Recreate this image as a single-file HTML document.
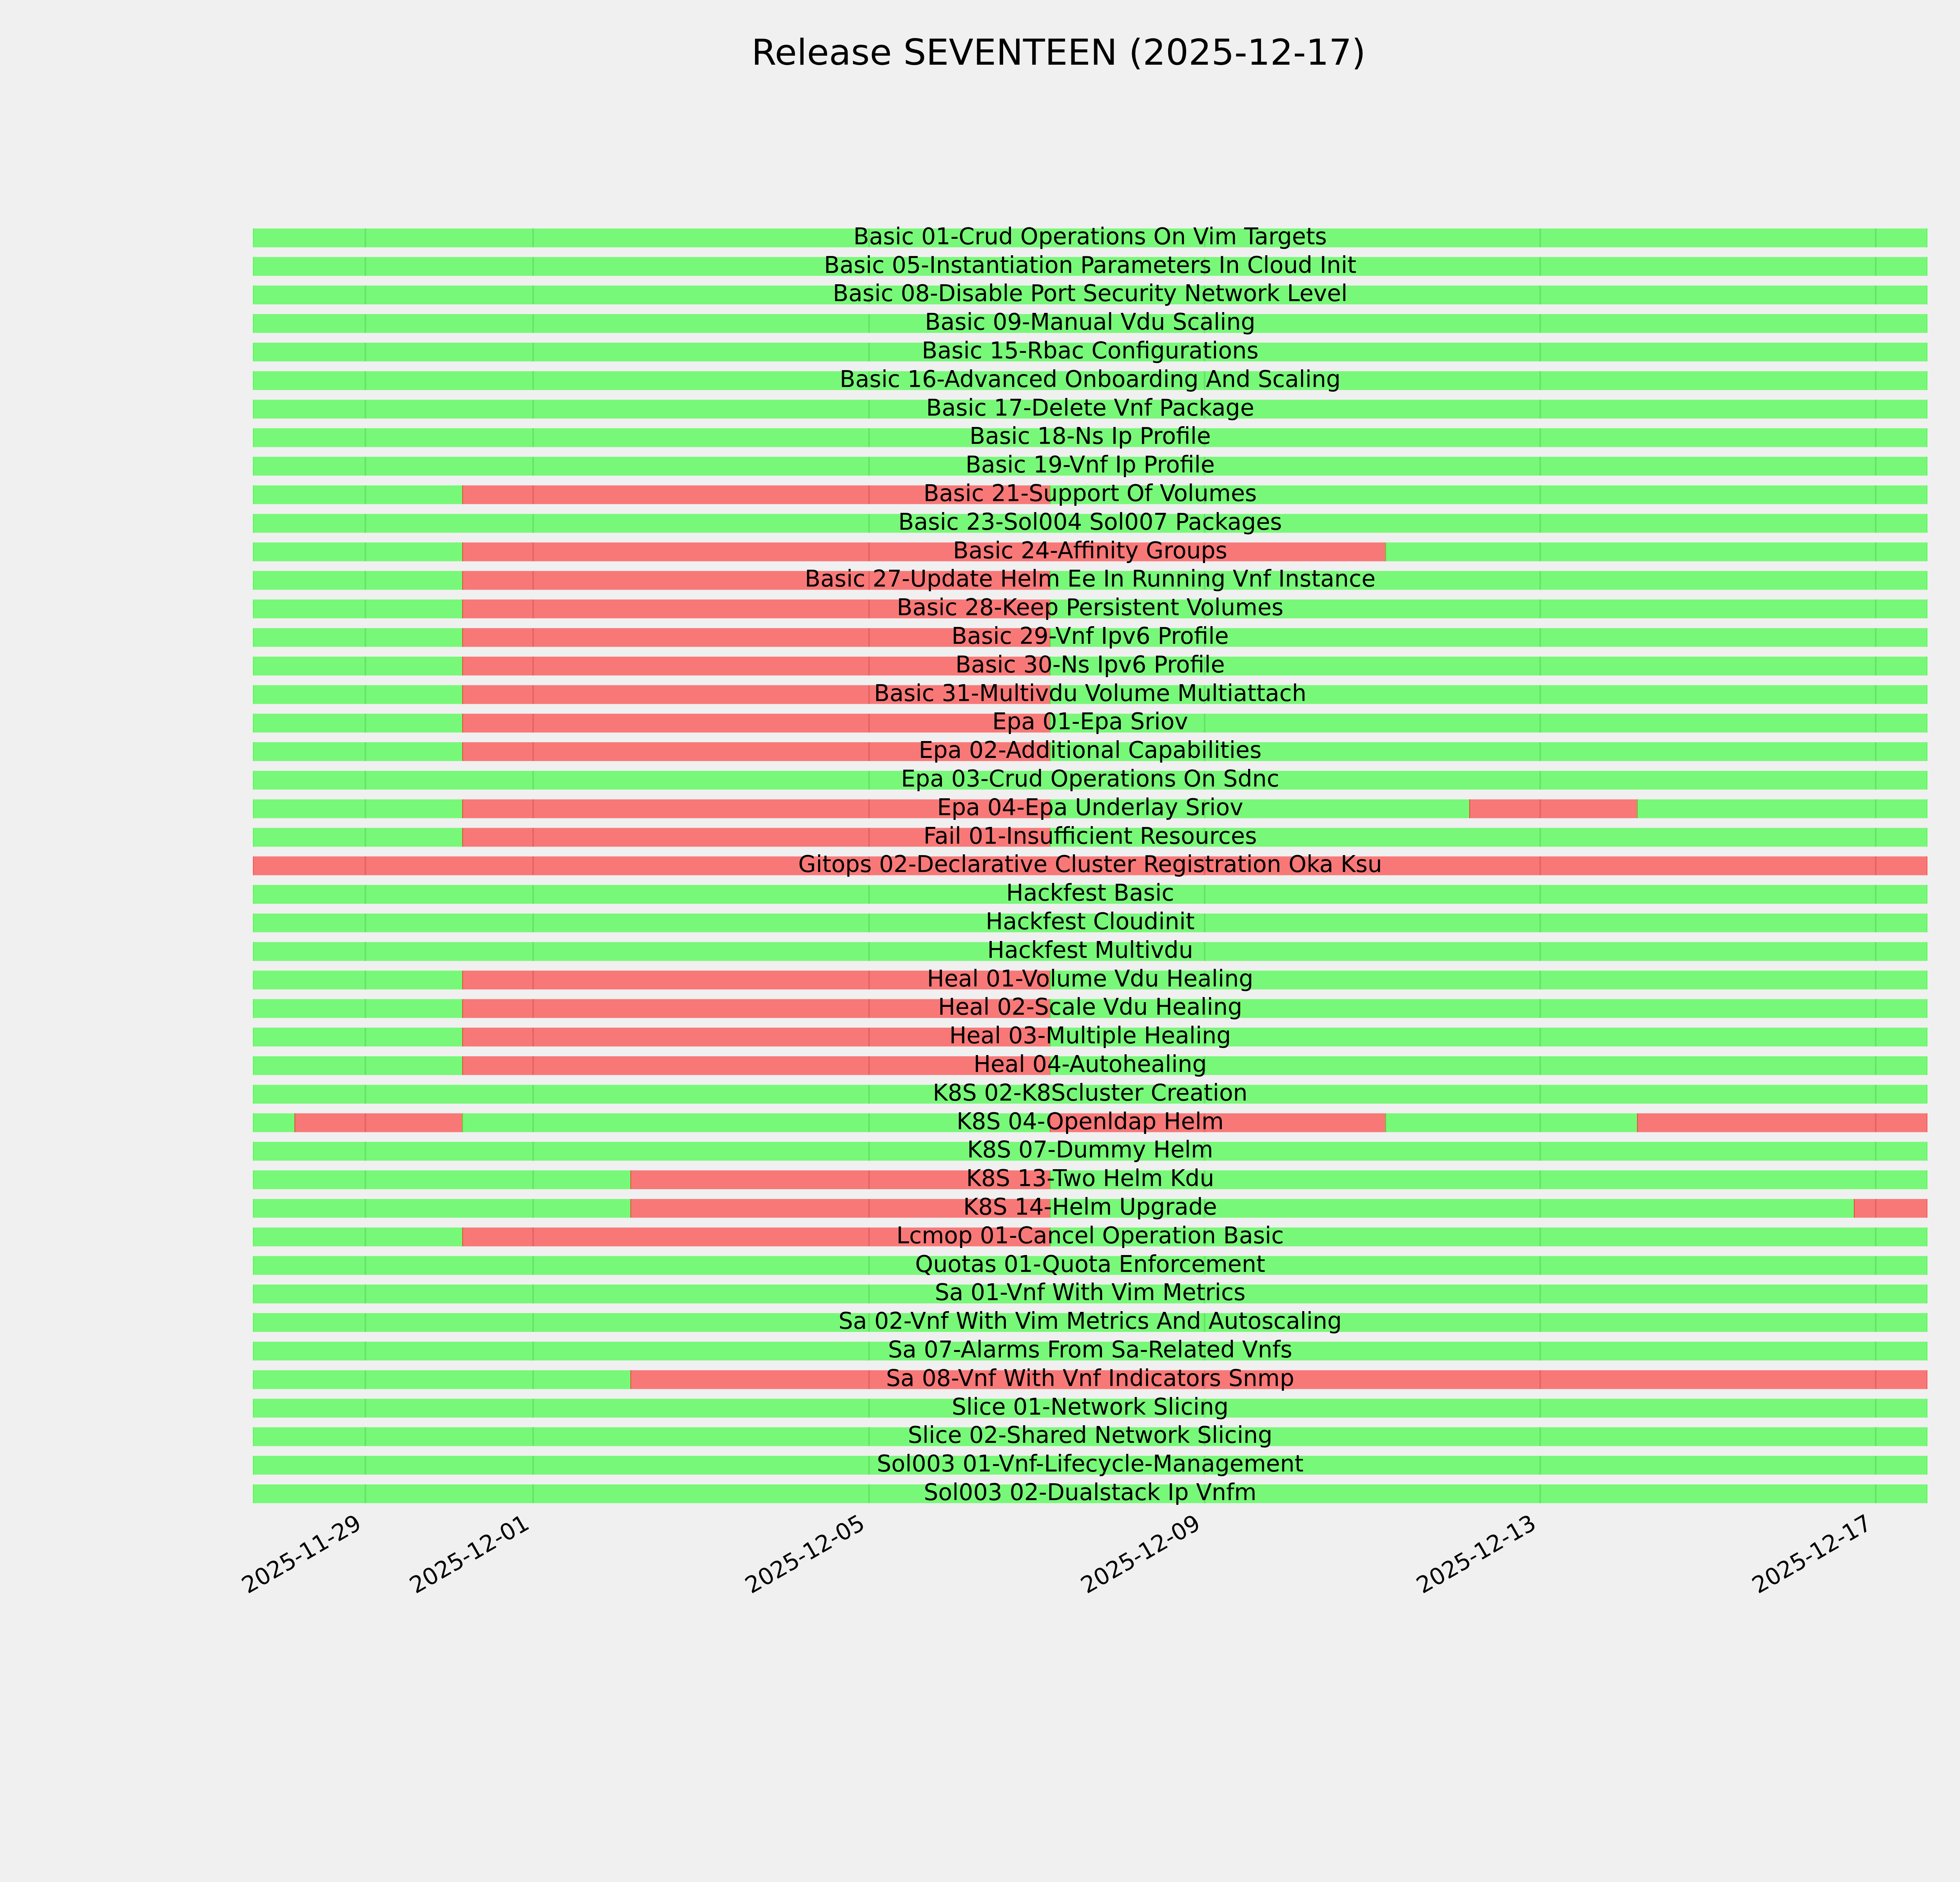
<!DOCTYPE html>
<html><head><meta charset="utf-8"><title>Release SEVENTEEN (2025-12-17)</title>
<style>html,body{margin:0;padding:0;background:#f0f0f0;}body{width:5400px;height:4800px;overflow:hidden;}svg{display:block;}</style>
</head><body>
<svg width="5400" height="4800" viewBox="0 0 5400 4800">
<rect x="0" y="0" width="5400" height="4800" fill="#f0f0f0"/>
<path fill="#cbcbcb" d="M930.00 582.70h4v47.95h-4zM1358.00 582.70h4v47.95h-4zM2215.00 582.70h4v47.95h-4zM3071.00 582.70h4v47.95h-4zM3927.00 582.70h4v47.95h-4zM4783.00 582.70h4v47.95h-4zM930.00 655.50h4v47.95h-4zM1358.00 655.50h4v47.95h-4zM2215.00 655.50h4v47.95h-4zM3071.00 655.50h4v47.95h-4zM3927.00 655.50h4v47.95h-4zM4783.00 655.50h4v47.95h-4zM930.00 728.30h4v47.95h-4zM1358.00 728.30h4v47.95h-4zM2215.00 728.30h4v47.95h-4zM3071.00 728.30h4v47.95h-4zM3927.00 728.30h4v47.95h-4zM4783.00 728.30h4v47.95h-4zM930.00 801.10h4v47.95h-4zM1358.00 801.10h4v47.95h-4zM2215.00 801.10h4v47.95h-4zM3071.00 801.10h4v47.95h-4zM3927.00 801.10h4v47.95h-4zM4783.00 801.10h4v47.95h-4zM930.00 873.90h4v47.95h-4zM1358.00 873.90h4v47.95h-4zM2215.00 873.90h4v47.95h-4zM3071.00 873.90h4v47.95h-4zM3927.00 873.90h4v47.95h-4zM4783.00 873.90h4v47.95h-4zM930.00 946.70h4v47.95h-4zM1358.00 946.70h4v47.95h-4zM2215.00 946.70h4v47.95h-4zM3071.00 946.70h4v47.95h-4zM3927.00 946.70h4v47.95h-4zM4783.00 946.70h4v47.95h-4zM930.00 1019.50h4v47.95h-4zM1358.00 1019.50h4v47.95h-4zM2215.00 1019.50h4v47.95h-4zM3071.00 1019.50h4v47.95h-4zM3927.00 1019.50h4v47.95h-4zM4783.00 1019.50h4v47.95h-4zM930.00 1092.30h4v47.95h-4zM1358.00 1092.30h4v47.95h-4zM2215.00 1092.30h4v47.95h-4zM3071.00 1092.30h4v47.95h-4zM3927.00 1092.30h4v47.95h-4zM4783.00 1092.30h4v47.95h-4zM930.00 1165.10h4v47.95h-4zM1358.00 1165.10h4v47.95h-4zM2215.00 1165.10h4v47.95h-4zM3071.00 1165.10h4v47.95h-4zM3927.00 1165.10h4v47.95h-4zM4783.00 1165.10h4v47.95h-4zM930.00 1237.90h4v47.95h-4zM1358.00 1237.90h4v47.95h-4zM2215.00 1237.90h4v47.95h-4zM3071.00 1237.90h4v47.95h-4zM3927.00 1237.90h4v47.95h-4zM4783.00 1237.90h4v47.95h-4zM930.00 1310.70h4v47.95h-4zM1358.00 1310.70h4v47.95h-4zM2215.00 1310.70h4v47.95h-4zM3071.00 1310.70h4v47.95h-4zM3927.00 1310.70h4v47.95h-4zM4783.00 1310.70h4v47.95h-4zM930.00 1383.50h4v47.95h-4zM1358.00 1383.50h4v47.95h-4zM2215.00 1383.50h4v47.95h-4zM3071.00 1383.50h4v47.95h-4zM3927.00 1383.50h4v47.95h-4zM4783.00 1383.50h4v47.95h-4zM930.00 1456.30h4v47.95h-4zM1358.00 1456.30h4v47.95h-4zM2215.00 1456.30h4v47.95h-4zM3071.00 1456.30h4v47.95h-4zM3927.00 1456.30h4v47.95h-4zM4783.00 1456.30h4v47.95h-4zM930.00 1529.10h4v47.95h-4zM1358.00 1529.10h4v47.95h-4zM2215.00 1529.10h4v47.95h-4zM3071.00 1529.10h4v47.95h-4zM3927.00 1529.10h4v47.95h-4zM4783.00 1529.10h4v47.95h-4zM930.00 1601.90h4v47.95h-4zM1358.00 1601.90h4v47.95h-4zM2215.00 1601.90h4v47.95h-4zM3071.00 1601.90h4v47.95h-4zM3927.00 1601.90h4v47.95h-4zM4783.00 1601.90h4v47.95h-4zM930.00 1674.70h4v47.95h-4zM1358.00 1674.70h4v47.95h-4zM2215.00 1674.70h4v47.95h-4zM3071.00 1674.70h4v47.95h-4zM3927.00 1674.70h4v47.95h-4zM4783.00 1674.70h4v47.95h-4zM930.00 1747.50h4v47.95h-4zM1358.00 1747.50h4v47.95h-4zM2215.00 1747.50h4v47.95h-4zM3071.00 1747.50h4v47.95h-4zM3927.00 1747.50h4v47.95h-4zM4783.00 1747.50h4v47.95h-4zM930.00 1820.30h4v47.95h-4zM1358.00 1820.30h4v47.95h-4zM2215.00 1820.30h4v47.95h-4zM3071.00 1820.30h4v47.95h-4zM3927.00 1820.30h4v47.95h-4zM4783.00 1820.30h4v47.95h-4zM930.00 1893.10h4v47.95h-4zM1358.00 1893.10h4v47.95h-4zM2215.00 1893.10h4v47.95h-4zM3071.00 1893.10h4v47.95h-4zM3927.00 1893.10h4v47.95h-4zM4783.00 1893.10h4v47.95h-4zM930.00 1965.90h4v47.95h-4zM1358.00 1965.90h4v47.95h-4zM2215.00 1965.90h4v47.95h-4zM3071.00 1965.90h4v47.95h-4zM3927.00 1965.90h4v47.95h-4zM4783.00 1965.90h4v47.95h-4zM930.00 2038.70h4v47.95h-4zM1358.00 2038.70h4v47.95h-4zM2215.00 2038.70h4v47.95h-4zM3071.00 2038.70h4v47.95h-4zM3927.00 2038.70h4v47.95h-4zM4783.00 2038.70h4v47.95h-4zM930.00 2111.50h4v47.95h-4zM1358.00 2111.50h4v47.95h-4zM2215.00 2111.50h4v47.95h-4zM3071.00 2111.50h4v47.95h-4zM3927.00 2111.50h4v47.95h-4zM4783.00 2111.50h4v47.95h-4zM930.00 2184.30h4v47.95h-4zM1358.00 2184.30h4v47.95h-4zM2215.00 2184.30h4v47.95h-4zM3071.00 2184.30h4v47.95h-4zM3927.00 2184.30h4v47.95h-4zM4783.00 2184.30h4v47.95h-4zM930.00 2257.10h4v47.95h-4zM1358.00 2257.10h4v47.95h-4zM2215.00 2257.10h4v47.95h-4zM3071.00 2257.10h4v47.95h-4zM3927.00 2257.10h4v47.95h-4zM4783.00 2257.10h4v47.95h-4zM930.00 2329.90h4v47.95h-4zM1358.00 2329.90h4v47.95h-4zM2215.00 2329.90h4v47.95h-4zM3071.00 2329.90h4v47.95h-4zM3927.00 2329.90h4v47.95h-4zM4783.00 2329.90h4v47.95h-4zM930.00 2402.70h4v47.95h-4zM1358.00 2402.70h4v47.95h-4zM2215.00 2402.70h4v47.95h-4zM3071.00 2402.70h4v47.95h-4zM3927.00 2402.70h4v47.95h-4zM4783.00 2402.70h4v47.95h-4zM930.00 2475.50h4v47.95h-4zM1358.00 2475.50h4v47.95h-4zM2215.00 2475.50h4v47.95h-4zM3071.00 2475.50h4v47.95h-4zM3927.00 2475.50h4v47.95h-4zM4783.00 2475.50h4v47.95h-4zM930.00 2548.30h4v47.95h-4zM1358.00 2548.30h4v47.95h-4zM2215.00 2548.30h4v47.95h-4zM3071.00 2548.30h4v47.95h-4zM3927.00 2548.30h4v47.95h-4zM4783.00 2548.30h4v47.95h-4zM930.00 2621.10h4v47.95h-4zM1358.00 2621.10h4v47.95h-4zM2215.00 2621.10h4v47.95h-4zM3071.00 2621.10h4v47.95h-4zM3927.00 2621.10h4v47.95h-4zM4783.00 2621.10h4v47.95h-4zM930.00 2693.90h4v47.95h-4zM1358.00 2693.90h4v47.95h-4zM2215.00 2693.90h4v47.95h-4zM3071.00 2693.90h4v47.95h-4zM3927.00 2693.90h4v47.95h-4zM4783.00 2693.90h4v47.95h-4zM930.00 2766.70h4v47.95h-4zM1358.00 2766.70h4v47.95h-4zM2215.00 2766.70h4v47.95h-4zM3071.00 2766.70h4v47.95h-4zM3927.00 2766.70h4v47.95h-4zM4783.00 2766.70h4v47.95h-4zM930.00 2839.50h4v47.95h-4zM1358.00 2839.50h4v47.95h-4zM2215.00 2839.50h4v47.95h-4zM3071.00 2839.50h4v47.95h-4zM3927.00 2839.50h4v47.95h-4zM4783.00 2839.50h4v47.95h-4zM930.00 2912.30h4v47.95h-4zM1358.00 2912.30h4v47.95h-4zM2215.00 2912.30h4v47.95h-4zM3071.00 2912.30h4v47.95h-4zM3927.00 2912.30h4v47.95h-4zM4783.00 2912.30h4v47.95h-4zM930.00 2985.10h4v47.95h-4zM1358.00 2985.10h4v47.95h-4zM2215.00 2985.10h4v47.95h-4zM3071.00 2985.10h4v47.95h-4zM3927.00 2985.10h4v47.95h-4zM4783.00 2985.10h4v47.95h-4zM930.00 3057.90h4v47.95h-4zM1358.00 3057.90h4v47.95h-4zM2215.00 3057.90h4v47.95h-4zM3071.00 3057.90h4v47.95h-4zM3927.00 3057.90h4v47.95h-4zM4783.00 3057.90h4v47.95h-4zM930.00 3130.70h4v47.95h-4zM1358.00 3130.70h4v47.95h-4zM2215.00 3130.70h4v47.95h-4zM3071.00 3130.70h4v47.95h-4zM3927.00 3130.70h4v47.95h-4zM4783.00 3130.70h4v47.95h-4zM930.00 3203.50h4v47.95h-4zM1358.00 3203.50h4v47.95h-4zM2215.00 3203.50h4v47.95h-4zM3071.00 3203.50h4v47.95h-4zM3927.00 3203.50h4v47.95h-4zM4783.00 3203.50h4v47.95h-4zM930.00 3276.30h4v47.95h-4zM1358.00 3276.30h4v47.95h-4zM2215.00 3276.30h4v47.95h-4zM3071.00 3276.30h4v47.95h-4zM3927.00 3276.30h4v47.95h-4zM4783.00 3276.30h4v47.95h-4zM930.00 3349.10h4v47.95h-4zM1358.00 3349.10h4v47.95h-4zM2215.00 3349.10h4v47.95h-4zM3071.00 3349.10h4v47.95h-4zM3927.00 3349.10h4v47.95h-4zM4783.00 3349.10h4v47.95h-4zM930.00 3421.90h4v47.95h-4zM1358.00 3421.90h4v47.95h-4zM2215.00 3421.90h4v47.95h-4zM3071.00 3421.90h4v47.95h-4zM3927.00 3421.90h4v47.95h-4zM4783.00 3421.90h4v47.95h-4zM930.00 3494.70h4v47.95h-4zM1358.00 3494.70h4v47.95h-4zM2215.00 3494.70h4v47.95h-4zM3071.00 3494.70h4v47.95h-4zM3927.00 3494.70h4v47.95h-4zM4783.00 3494.70h4v47.95h-4zM930.00 3567.50h4v47.95h-4zM1358.00 3567.50h4v47.95h-4zM2215.00 3567.50h4v47.95h-4zM3071.00 3567.50h4v47.95h-4zM3927.00 3567.50h4v47.95h-4zM4783.00 3567.50h4v47.95h-4zM930.00 3640.30h4v47.95h-4zM1358.00 3640.30h4v47.95h-4zM2215.00 3640.30h4v47.95h-4zM3071.00 3640.30h4v47.95h-4zM3927.00 3640.30h4v47.95h-4zM4783.00 3640.30h4v47.95h-4zM930.00 3713.10h4v47.95h-4zM1358.00 3713.10h4v47.95h-4zM2215.00 3713.10h4v47.95h-4zM3071.00 3713.10h4v47.95h-4zM3927.00 3713.10h4v47.95h-4zM4783.00 3713.10h4v47.95h-4zM930.00 3785.90h4v47.95h-4zM1358.00 3785.90h4v47.95h-4zM2215.00 3785.90h4v47.95h-4zM3071.00 3785.90h4v47.95h-4zM3927.00 3785.90h4v47.95h-4zM4783.00 3785.90h4v47.95h-4z"/>
<path fill="#00ff00" fill-opacity="0.5" d="M645.00 582.70H4917.00v47.95H645.00z"/>
<path fill="#00ff00" fill-opacity="0.5" d="M646.00 582.70h1v47.95h-1zM4915.00 582.70h1v47.95h-1z"/>
<path fill="#00ff00" fill-opacity="0.5" d="M645.00 655.50H4917.00v47.95H645.00z"/>
<path fill="#00ff00" fill-opacity="0.5" d="M646.00 655.50h1v47.95h-1zM4915.00 655.50h1v47.95h-1z"/>
<path fill="#00ff00" fill-opacity="0.5" d="M645.00 728.30H4917.00v47.95H645.00z"/>
<path fill="#00ff00" fill-opacity="0.5" d="M646.00 728.30h1v47.95h-1zM4915.00 728.30h1v47.95h-1z"/>
<path fill="#00ff00" fill-opacity="0.5" d="M645.00 801.10H4917.00v47.95H645.00z"/>
<path fill="#00ff00" fill-opacity="0.5" d="M646.00 801.10h1v47.95h-1zM4915.00 801.10h1v47.95h-1z"/>
<path fill="#00ff00" fill-opacity="0.5" d="M645.00 873.90H4917.00v47.95H645.00z"/>
<path fill="#00ff00" fill-opacity="0.5" d="M646.00 873.90h1v47.95h-1zM4915.00 873.90h1v47.95h-1z"/>
<path fill="#00ff00" fill-opacity="0.5" d="M645.00 946.70H4917.00v47.95H645.00z"/>
<path fill="#00ff00" fill-opacity="0.5" d="M646.00 946.70h1v47.95h-1zM4915.00 946.70h1v47.95h-1z"/>
<path fill="#00ff00" fill-opacity="0.5" d="M645.00 1019.50H4917.00v47.95H645.00z"/>
<path fill="#00ff00" fill-opacity="0.5" d="M646.00 1019.50h1v47.95h-1zM4915.00 1019.50h1v47.95h-1z"/>
<path fill="#00ff00" fill-opacity="0.5" d="M645.00 1092.30H4917.00v47.95H645.00z"/>
<path fill="#00ff00" fill-opacity="0.5" d="M646.00 1092.30h1v47.95h-1zM4915.00 1092.30h1v47.95h-1z"/>
<path fill="#00ff00" fill-opacity="0.5" d="M645.00 1165.10H4917.00v47.95H645.00z"/>
<path fill="#00ff00" fill-opacity="0.5" d="M646.00 1165.10h1v47.95h-1zM4915.00 1165.10h1v47.95h-1z"/>
<path fill="#00ff00" fill-opacity="0.5" d="M645.00 1237.90H1181.00v47.95H645.00z"/>
<path fill="#00ff00" fill-opacity="0.5" d="M646.00 1237.90h1v47.95h-1z"/>
<path fill="#ff0000" fill-opacity="0.5" d="M1179.00 1237.90H2680.00v47.95H1179.00z"/>
<path fill="#ff0000" fill-opacity="0.5" d="M1180.00 1237.90h1v47.95h-1z"/>
<path fill="#00ff00" fill-opacity="0.5" d="M2678.00 1237.90H4917.00v47.95H2678.00z"/>
<path fill="#00ff00" fill-opacity="0.5" d="M2679.00 1237.90h1v47.95h-1zM4915.00 1237.90h1v47.95h-1z"/>
<path fill="#00ff00" fill-opacity="0.5" d="M645.00 1310.70H4917.00v47.95H645.00z"/>
<path fill="#00ff00" fill-opacity="0.5" d="M646.00 1310.70h1v47.95h-1zM4915.00 1310.70h1v47.95h-1z"/>
<path fill="#00ff00" fill-opacity="0.5" d="M645.00 1383.50H1181.00v47.95H645.00z"/>
<path fill="#00ff00" fill-opacity="0.5" d="M646.00 1383.50h1v47.95h-1z"/>
<path fill="#ff0000" fill-opacity="0.5" d="M1179.00 1383.50H3536.00v47.95H1179.00z"/>
<path fill="#ff0000" fill-opacity="0.5" d="M1180.00 1383.50h1v47.95h-1z"/>
<path fill="#00ff00" fill-opacity="0.5" d="M3534.00 1383.50H4917.00v47.95H3534.00z"/>
<path fill="#00ff00" fill-opacity="0.5" d="M3535.00 1383.50h1v47.95h-1zM4915.00 1383.50h1v47.95h-1z"/>
<path fill="#00ff00" fill-opacity="0.5" d="M645.00 1456.30H1181.00v47.95H645.00z"/>
<path fill="#00ff00" fill-opacity="0.5" d="M646.00 1456.30h1v47.95h-1z"/>
<path fill="#ff0000" fill-opacity="0.5" d="M1179.00 1456.30H2680.00v47.95H1179.00z"/>
<path fill="#ff0000" fill-opacity="0.5" d="M1180.00 1456.30h1v47.95h-1z"/>
<path fill="#00ff00" fill-opacity="0.5" d="M2678.00 1456.30H4917.00v47.95H2678.00z"/>
<path fill="#00ff00" fill-opacity="0.5" d="M2679.00 1456.30h1v47.95h-1zM4915.00 1456.30h1v47.95h-1z"/>
<path fill="#00ff00" fill-opacity="0.5" d="M645.00 1529.10H1181.00v47.95H645.00z"/>
<path fill="#00ff00" fill-opacity="0.5" d="M646.00 1529.10h1v47.95h-1z"/>
<path fill="#ff0000" fill-opacity="0.5" d="M1179.00 1529.10H2680.00v47.95H1179.00z"/>
<path fill="#ff0000" fill-opacity="0.5" d="M1180.00 1529.10h1v47.95h-1z"/>
<path fill="#00ff00" fill-opacity="0.5" d="M2678.00 1529.10H4917.00v47.95H2678.00z"/>
<path fill="#00ff00" fill-opacity="0.5" d="M2679.00 1529.10h1v47.95h-1zM4915.00 1529.10h1v47.95h-1z"/>
<path fill="#00ff00" fill-opacity="0.5" d="M645.00 1601.90H1181.00v47.95H645.00z"/>
<path fill="#00ff00" fill-opacity="0.5" d="M646.00 1601.90h1v47.95h-1z"/>
<path fill="#ff0000" fill-opacity="0.5" d="M1179.00 1601.90H2680.00v47.95H1179.00z"/>
<path fill="#ff0000" fill-opacity="0.5" d="M1180.00 1601.90h1v47.95h-1z"/>
<path fill="#00ff00" fill-opacity="0.5" d="M2678.00 1601.90H4917.00v47.95H2678.00z"/>
<path fill="#00ff00" fill-opacity="0.5" d="M2679.00 1601.90h1v47.95h-1zM4915.00 1601.90h1v47.95h-1z"/>
<path fill="#00ff00" fill-opacity="0.5" d="M645.00 1674.70H1181.00v47.95H645.00z"/>
<path fill="#00ff00" fill-opacity="0.5" d="M646.00 1674.70h1v47.95h-1z"/>
<path fill="#ff0000" fill-opacity="0.5" d="M1179.00 1674.70H2680.00v47.95H1179.00z"/>
<path fill="#ff0000" fill-opacity="0.5" d="M1180.00 1674.70h1v47.95h-1z"/>
<path fill="#00ff00" fill-opacity="0.5" d="M2678.00 1674.70H4917.00v47.95H2678.00z"/>
<path fill="#00ff00" fill-opacity="0.5" d="M2679.00 1674.70h1v47.95h-1zM4915.00 1674.70h1v47.95h-1z"/>
<path fill="#00ff00" fill-opacity="0.5" d="M645.00 1747.50H1181.00v47.95H645.00z"/>
<path fill="#00ff00" fill-opacity="0.5" d="M646.00 1747.50h1v47.95h-1z"/>
<path fill="#ff0000" fill-opacity="0.5" d="M1179.00 1747.50H2680.00v47.95H1179.00z"/>
<path fill="#ff0000" fill-opacity="0.5" d="M1180.00 1747.50h1v47.95h-1z"/>
<path fill="#00ff00" fill-opacity="0.5" d="M2678.00 1747.50H4917.00v47.95H2678.00z"/>
<path fill="#00ff00" fill-opacity="0.5" d="M2679.00 1747.50h1v47.95h-1zM4915.00 1747.50h1v47.95h-1z"/>
<path fill="#00ff00" fill-opacity="0.5" d="M645.00 1820.30H1181.00v47.95H645.00z"/>
<path fill="#00ff00" fill-opacity="0.5" d="M646.00 1820.30h1v47.95h-1z"/>
<path fill="#ff0000" fill-opacity="0.5" d="M1179.00 1820.30H2680.00v47.95H1179.00z"/>
<path fill="#ff0000" fill-opacity="0.5" d="M1180.00 1820.30h1v47.95h-1z"/>
<path fill="#00ff00" fill-opacity="0.5" d="M2678.00 1820.30H4917.00v47.95H2678.00z"/>
<path fill="#00ff00" fill-opacity="0.5" d="M2679.00 1820.30h1v47.95h-1zM4915.00 1820.30h1v47.95h-1z"/>
<path fill="#00ff00" fill-opacity="0.5" d="M645.00 1893.10H1181.00v47.95H645.00z"/>
<path fill="#00ff00" fill-opacity="0.5" d="M646.00 1893.10h1v47.95h-1z"/>
<path fill="#ff0000" fill-opacity="0.5" d="M1179.00 1893.10H2680.00v47.95H1179.00z"/>
<path fill="#ff0000" fill-opacity="0.5" d="M1180.00 1893.10h1v47.95h-1z"/>
<path fill="#00ff00" fill-opacity="0.5" d="M2678.00 1893.10H4917.00v47.95H2678.00z"/>
<path fill="#00ff00" fill-opacity="0.5" d="M2679.00 1893.10h1v47.95h-1zM4915.00 1893.10h1v47.95h-1z"/>
<path fill="#00ff00" fill-opacity="0.5" d="M645.00 1965.90H4917.00v47.95H645.00z"/>
<path fill="#00ff00" fill-opacity="0.5" d="M646.00 1965.90h1v47.95h-1zM4915.00 1965.90h1v47.95h-1z"/>
<path fill="#00ff00" fill-opacity="0.5" d="M645.00 2038.70H1181.00v47.95H645.00z"/>
<path fill="#00ff00" fill-opacity="0.5" d="M646.00 2038.70h1v47.95h-1z"/>
<path fill="#ff0000" fill-opacity="0.5" d="M1179.00 2038.70H2680.00v47.95H1179.00z"/>
<path fill="#ff0000" fill-opacity="0.5" d="M1180.00 2038.70h1v47.95h-1z"/>
<path fill="#00ff00" fill-opacity="0.5" d="M2678.00 2038.70H3750.00v47.95H2678.00z"/>
<path fill="#00ff00" fill-opacity="0.5" d="M2679.00 2038.70h1v47.95h-1z"/>
<path fill="#ff0000" fill-opacity="0.5" d="M3748.00 2038.70H4178.00v47.95H3748.00z"/>
<path fill="#ff0000" fill-opacity="0.5" d="M3749.00 2038.70h1v47.95h-1z"/>
<path fill="#00ff00" fill-opacity="0.5" d="M4176.00 2038.70H4917.00v47.95H4176.00z"/>
<path fill="#00ff00" fill-opacity="0.5" d="M4177.00 2038.70h1v47.95h-1zM4915.00 2038.70h1v47.95h-1z"/>
<path fill="#00ff00" fill-opacity="0.5" d="M645.00 2111.50H1181.00v47.95H645.00z"/>
<path fill="#00ff00" fill-opacity="0.5" d="M646.00 2111.50h1v47.95h-1z"/>
<path fill="#ff0000" fill-opacity="0.5" d="M1179.00 2111.50H2680.00v47.95H1179.00z"/>
<path fill="#ff0000" fill-opacity="0.5" d="M1180.00 2111.50h1v47.95h-1z"/>
<path fill="#00ff00" fill-opacity="0.5" d="M2678.00 2111.50H4917.00v47.95H2678.00z"/>
<path fill="#00ff00" fill-opacity="0.5" d="M2679.00 2111.50h1v47.95h-1zM4915.00 2111.50h1v47.95h-1z"/>
<path fill="#ff0000" fill-opacity="0.5" d="M645.00 2184.30H4917.00v47.95H645.00z"/>
<path fill="#ff0000" fill-opacity="0.5" d="M646.00 2184.30h1v47.95h-1zM4915.00 2184.30h1v47.95h-1z"/>
<path fill="#00ff00" fill-opacity="0.5" d="M645.00 2257.10H4917.00v47.95H645.00z"/>
<path fill="#00ff00" fill-opacity="0.5" d="M646.00 2257.10h1v47.95h-1zM4915.00 2257.10h1v47.95h-1z"/>
<path fill="#00ff00" fill-opacity="0.5" d="M645.00 2329.90H4917.00v47.95H645.00z"/>
<path fill="#00ff00" fill-opacity="0.5" d="M646.00 2329.90h1v47.95h-1zM4915.00 2329.90h1v47.95h-1z"/>
<path fill="#00ff00" fill-opacity="0.5" d="M645.00 2402.70H4917.00v47.95H645.00z"/>
<path fill="#00ff00" fill-opacity="0.5" d="M646.00 2402.70h1v47.95h-1zM4915.00 2402.70h1v47.95h-1z"/>
<path fill="#00ff00" fill-opacity="0.5" d="M645.00 2475.50H1181.00v47.95H645.00z"/>
<path fill="#00ff00" fill-opacity="0.5" d="M646.00 2475.50h1v47.95h-1z"/>
<path fill="#ff0000" fill-opacity="0.5" d="M1179.00 2475.50H2680.00v47.95H1179.00z"/>
<path fill="#ff0000" fill-opacity="0.5" d="M1180.00 2475.50h1v47.95h-1z"/>
<path fill="#00ff00" fill-opacity="0.5" d="M2678.00 2475.50H4917.00v47.95H2678.00z"/>
<path fill="#00ff00" fill-opacity="0.5" d="M2679.00 2475.50h1v47.95h-1zM4915.00 2475.50h1v47.95h-1z"/>
<path fill="#00ff00" fill-opacity="0.5" d="M645.00 2548.30H1181.00v47.95H645.00z"/>
<path fill="#00ff00" fill-opacity="0.5" d="M646.00 2548.30h1v47.95h-1z"/>
<path fill="#ff0000" fill-opacity="0.5" d="M1179.00 2548.30H2680.00v47.95H1179.00z"/>
<path fill="#ff0000" fill-opacity="0.5" d="M1180.00 2548.30h1v47.95h-1z"/>
<path fill="#00ff00" fill-opacity="0.5" d="M2678.00 2548.30H4917.00v47.95H2678.00z"/>
<path fill="#00ff00" fill-opacity="0.5" d="M2679.00 2548.30h1v47.95h-1zM4915.00 2548.30h1v47.95h-1z"/>
<path fill="#00ff00" fill-opacity="0.5" d="M645.00 2621.10H1181.00v47.95H645.00z"/>
<path fill="#00ff00" fill-opacity="0.5" d="M646.00 2621.10h1v47.95h-1z"/>
<path fill="#ff0000" fill-opacity="0.5" d="M1179.00 2621.10H2680.00v47.95H1179.00z"/>
<path fill="#ff0000" fill-opacity="0.5" d="M1180.00 2621.10h1v47.95h-1z"/>
<path fill="#00ff00" fill-opacity="0.5" d="M2678.00 2621.10H4917.00v47.95H2678.00z"/>
<path fill="#00ff00" fill-opacity="0.5" d="M2679.00 2621.10h1v47.95h-1zM4915.00 2621.10h1v47.95h-1z"/>
<path fill="#00ff00" fill-opacity="0.5" d="M645.00 2693.90H1181.00v47.95H645.00z"/>
<path fill="#00ff00" fill-opacity="0.5" d="M646.00 2693.90h1v47.95h-1z"/>
<path fill="#ff0000" fill-opacity="0.5" d="M1179.00 2693.90H2680.00v47.95H1179.00z"/>
<path fill="#ff0000" fill-opacity="0.5" d="M1180.00 2693.90h1v47.95h-1z"/>
<path fill="#00ff00" fill-opacity="0.5" d="M2678.00 2693.90H4917.00v47.95H2678.00z"/>
<path fill="#00ff00" fill-opacity="0.5" d="M2679.00 2693.90h1v47.95h-1zM4915.00 2693.90h1v47.95h-1z"/>
<path fill="#00ff00" fill-opacity="0.5" d="M645.00 2766.70H4917.00v47.95H645.00z"/>
<path fill="#00ff00" fill-opacity="0.5" d="M646.00 2766.70h1v47.95h-1zM4915.00 2766.70h1v47.95h-1z"/>
<path fill="#00ff00" fill-opacity="0.5" d="M645.00 2839.50H753.00v47.95H645.00z"/>
<path fill="#00ff00" fill-opacity="0.5" d="M646.00 2839.50h1v47.95h-1z"/>
<path fill="#ff0000" fill-opacity="0.5" d="M751.00 2839.50H1181.00v47.95H751.00z"/>
<path fill="#ff0000" fill-opacity="0.5" d="M752.00 2839.50h1v47.95h-1z"/>
<path fill="#00ff00" fill-opacity="0.5" d="M1179.00 2839.50H2680.00v47.95H1179.00z"/>
<path fill="#00ff00" fill-opacity="0.5" d="M1180.00 2839.50h1v47.95h-1z"/>
<path fill="#ff0000" fill-opacity="0.5" d="M2678.00 2839.50H3536.00v47.95H2678.00z"/>
<path fill="#ff0000" fill-opacity="0.5" d="M2679.00 2839.50h1v47.95h-1z"/>
<path fill="#00ff00" fill-opacity="0.5" d="M3534.00 2839.50H4178.00v47.95H3534.00z"/>
<path fill="#00ff00" fill-opacity="0.5" d="M3535.00 2839.50h1v47.95h-1z"/>
<path fill="#ff0000" fill-opacity="0.5" d="M4176.00 2839.50H4917.00v47.95H4176.00z"/>
<path fill="#ff0000" fill-opacity="0.5" d="M4177.00 2839.50h1v47.95h-1zM4915.00 2839.50h1v47.95h-1z"/>
<path fill="#00ff00" fill-opacity="0.5" d="M645.00 2912.30H4917.00v47.95H645.00z"/>
<path fill="#00ff00" fill-opacity="0.5" d="M646.00 2912.30h1v47.95h-1zM4915.00 2912.30h1v47.95h-1z"/>
<path fill="#00ff00" fill-opacity="0.5" d="M645.00 2985.10H1610.00v47.95H645.00z"/>
<path fill="#00ff00" fill-opacity="0.5" d="M646.00 2985.10h1v47.95h-1z"/>
<path fill="#ff0000" fill-opacity="0.5" d="M1608.00 2985.10H2680.00v47.95H1608.00z"/>
<path fill="#ff0000" fill-opacity="0.5" d="M1609.00 2985.10h1v47.95h-1z"/>
<path fill="#00ff00" fill-opacity="0.5" d="M2678.00 2985.10H4917.00v47.95H2678.00z"/>
<path fill="#00ff00" fill-opacity="0.5" d="M2679.00 2985.10h1v47.95h-1zM4915.00 2985.10h1v47.95h-1z"/>
<path fill="#00ff00" fill-opacity="0.5" d="M645.00 3057.90H1610.00v47.95H645.00z"/>
<path fill="#00ff00" fill-opacity="0.5" d="M646.00 3057.90h1v47.95h-1z"/>
<path fill="#ff0000" fill-opacity="0.5" d="M1608.00 3057.90H2680.00v47.95H1608.00z"/>
<path fill="#ff0000" fill-opacity="0.5" d="M1609.00 3057.90h1v47.95h-1z"/>
<path fill="#00ff00" fill-opacity="0.5" d="M2678.00 3057.90H4731.00v47.95H2678.00z"/>
<path fill="#00ff00" fill-opacity="0.5" d="M2679.00 3057.90h1v47.95h-1z"/>
<path fill="#ff0000" fill-opacity="0.5" d="M4729.00 3057.90H4917.00v47.95H4729.00z"/>
<path fill="#ff0000" fill-opacity="0.5" d="M4730.00 3057.90h1v47.95h-1zM4915.00 3057.90h1v47.95h-1z"/>
<path fill="#00ff00" fill-opacity="0.5" d="M645.00 3130.70H1181.00v47.95H645.00z"/>
<path fill="#00ff00" fill-opacity="0.5" d="M646.00 3130.70h1v47.95h-1z"/>
<path fill="#ff0000" fill-opacity="0.5" d="M1179.00 3130.70H2680.00v47.95H1179.00z"/>
<path fill="#ff0000" fill-opacity="0.5" d="M1180.00 3130.70h1v47.95h-1z"/>
<path fill="#00ff00" fill-opacity="0.5" d="M2678.00 3130.70H4917.00v47.95H2678.00z"/>
<path fill="#00ff00" fill-opacity="0.5" d="M2679.00 3130.70h1v47.95h-1zM4915.00 3130.70h1v47.95h-1z"/>
<path fill="#00ff00" fill-opacity="0.5" d="M645.00 3203.50H4917.00v47.95H645.00z"/>
<path fill="#00ff00" fill-opacity="0.5" d="M646.00 3203.50h1v47.95h-1zM4915.00 3203.50h1v47.95h-1z"/>
<path fill="#00ff00" fill-opacity="0.5" d="M645.00 3276.30H4917.00v47.95H645.00z"/>
<path fill="#00ff00" fill-opacity="0.5" d="M646.00 3276.30h1v47.95h-1zM4915.00 3276.30h1v47.95h-1z"/>
<path fill="#00ff00" fill-opacity="0.5" d="M645.00 3349.10H4917.00v47.95H645.00z"/>
<path fill="#00ff00" fill-opacity="0.5" d="M646.00 3349.10h1v47.95h-1zM4915.00 3349.10h1v47.95h-1z"/>
<path fill="#00ff00" fill-opacity="0.5" d="M645.00 3421.90H4917.00v47.95H645.00z"/>
<path fill="#00ff00" fill-opacity="0.5" d="M646.00 3421.90h1v47.95h-1zM4915.00 3421.90h1v47.95h-1z"/>
<path fill="#00ff00" fill-opacity="0.5" d="M645.00 3494.70H1610.00v47.95H645.00z"/>
<path fill="#00ff00" fill-opacity="0.5" d="M646.00 3494.70h1v47.95h-1z"/>
<path fill="#ff0000" fill-opacity="0.5" d="M1608.00 3494.70H4917.00v47.95H1608.00z"/>
<path fill="#ff0000" fill-opacity="0.5" d="M1609.00 3494.70h1v47.95h-1zM4915.00 3494.70h1v47.95h-1z"/>
<path fill="#00ff00" fill-opacity="0.5" d="M645.00 3567.50H4917.00v47.95H645.00z"/>
<path fill="#00ff00" fill-opacity="0.5" d="M646.00 3567.50h1v47.95h-1zM4915.00 3567.50h1v47.95h-1z"/>
<path fill="#00ff00" fill-opacity="0.5" d="M645.00 3640.30H4917.00v47.95H645.00z"/>
<path fill="#00ff00" fill-opacity="0.5" d="M646.00 3640.30h1v47.95h-1zM4915.00 3640.30h1v47.95h-1z"/>
<path fill="#00ff00" fill-opacity="0.5" d="M645.00 3713.10H4917.00v47.95H645.00z"/>
<path fill="#00ff00" fill-opacity="0.5" d="M646.00 3713.10h1v47.95h-1zM4915.00 3713.10h1v47.95h-1z"/>
<path fill="#00ff00" fill-opacity="0.5" d="M645.00 3785.90H4917.00v47.95H645.00z"/>
<path fill="#00ff00" fill-opacity="0.5" d="M646.00 3785.90h1v47.95h-1zM4915.00 3785.90h1v47.95h-1z"/>
<g font-family="DejaVu Sans, Liberation Sans, sans-serif" font-size="58.333" fill="#000" text-anchor="middle">
<text x="2781.0" y="623" textLength="1207.88">Basic 01-Crud Operations On Vim Targets</text>
<text x="2781.0" y="696" textLength="1358.12">Basic 05-Instantiation Parameters In Cloud Init</text>
<text x="2781.0" y="768" textLength="1313.00">Basic 08-Disable Port Security Network Level</text>
<text x="2781.0" y="841" textLength="843.12">Basic 09-Manual Vdu Scaling</text>
<text x="2781.0" y="914" textLength="859.12">Basic 15-Rbac Configurations</text>
<text x="2781.0" y="987" textLength="1278.12">Basic 16-Advanced Onboarding And Scaling</text>
<text x="2781.0" y="1060" textLength="837.12">Basic 17-Delete Vnf Package</text>
<text x="2781.0" y="1132" textLength="615.75">Basic 18-Ns Ip Profile</text>
<text x="2781.0" y="1205" textLength="635.88">Basic 19-Vnf Ip Profile</text>
<text x="2781.0" y="1278" textLength="850.50">Basic 21-Support Of Volumes</text>
<text x="2781.0" y="1351" textLength="978.88">Basic 23-Sol004 Sol007 Packages</text>
<text x="2781.0" y="1424" textLength="699.88">Basic 24-Affinity Groups</text>
<text x="2781.0" y="1496" textLength="1456.12">Basic 27-Update Helm Ee In Running Vnf Instance</text>
<text x="2781.0" y="1569" textLength="986.38">Basic 28-Keep Persistent Volumes</text>
<text x="2781.0" y="1642" textLength="707.50">Basic 29-Vnf Ipv6 Profile</text>
<text x="2781.0" y="1715" textLength="687.38">Basic 30-Ns Ipv6 Profile</text>
<text x="2781.0" y="1788" textLength="1103.25">Basic 31-Multivdu Volume Multiattach</text>
<text x="2781.0" y="1860" textLength="499.50">Epa 01-Epa Sriov</text>
<text x="2781.0" y="1933" textLength="874.62">Epa 02-Additional Capabilities</text>
<text x="2781.0" y="2006" textLength="965.00">Epa 03-Crud Operations On Sdnc</text>
<text x="2781.0" y="2079" textLength="781.25">Epa 04-Epa Underlay Sriov</text>
<text x="2781.0" y="2152" textLength="850.62">Fail 01-Insufficient Resources</text>
<text x="2781.0" y="2224" textLength="1489.38">Gitops 02-Declarative Cluster Registration Oka Ksu</text>
<text x="2781.0" y="2297" textLength="428.50">Hackfest Basic</text>
<text x="2781.0" y="2370" textLength="533.00">Hackfest Cloudinit</text>
<text x="2781.0" y="2443" textLength="525.25">Hackfest Multivdu</text>
<text x="2781.0" y="2516" textLength="832.50">Heal 01-Volume Vdu Healing</text>
<text x="2781.0" y="2588" textLength="776.00">Heal 02-Scale Vdu Healing</text>
<text x="2781.0" y="2661" textLength="718.62">Heal 03-Multiple Healing</text>
<text x="2781.0" y="2734" textLength="595.25">Heal 04-Autohealing</text>
<text x="2781.0" y="2807" textLength="803.12">K8S 02-K8Scluster Creation</text>
<text x="2781.0" y="2880" textLength="681.50">K8S 04-Openldap Helm</text>
<text x="2781.0" y="2952" textLength="627.75">K8S 07-Dummy Helm</text>
<text x="2781.0" y="3025" textLength="632.75">K8S 13-Two Helm Kdu</text>
<text x="2781.0" y="3098" textLength="647.38">K8S 14-Helm Upgrade</text>
<text x="2781.0" y="3171" textLength="988.38">Lcmop 01-Cancel Operation Basic</text>
<text x="2781.0" y="3244" textLength="893.12">Quotas 01-Quota Enforcement</text>
<text x="2781.0" y="3316" textLength="792.75">Sa 01-Vnf With Vim Metrics</text>
<text x="2781.0" y="3389" textLength="1283.88">Sa 02-Vnf With Vim Metrics And Autoscaling</text>
<text x="2781.0" y="3462" textLength="1031.38">Sa 07-Alarms From Sa-Related Vnfs</text>
<text x="2781.0" y="3535" textLength="1041.38">Sa 08-Vnf With Vnf Indicators Snmp</text>
<text x="2781.0" y="3608" textLength="705.88">Slice 01-Network Slicing</text>
<text x="2781.0" y="3680" textLength="930.00">Slice 02-Shared Network Slicing</text>
<text x="2781.0" y="3753" textLength="1088.62">Sol003 01-Vnf-Lifecycle-Management</text>
<text x="2781.0" y="3826" textLength="848.88">Sol003 02-Dualstack Ip Vnfm</text>
</g>
<text x="2700.5" y="165" textLength="1567.2" font-family="DejaVu Sans, Liberation Sans, sans-serif" font-size="91.667" fill="#000" text-anchor="middle">Release SEVENTEEN (2025-12-17)</text>
<g font-family="DejaVu Sans, Liberation Sans, sans-serif" font-size="58.333" fill="#000" text-anchor="end">
<text transform="translate(926.00 3896.10) rotate(-30)" x="0" y="0" textLength="339.38">2025-11-29</text>
<text transform="translate(1354.10 3896.10) rotate(-30)" x="0" y="0" textLength="339.38">2025-12-01</text>
<text transform="translate(2210.30 3896.10) rotate(-30)" x="0" y="0" textLength="339.50">2025-12-05</text>
<text transform="translate(3066.50 3896.10) rotate(-30)" x="0" y="0" textLength="339.38">2025-12-09</text>
<text transform="translate(3922.70 3896.10) rotate(-30)" x="0" y="0" textLength="339.38">2025-12-13</text>
<text transform="translate(4778.90 3896.10) rotate(-30)" x="0" y="0" textLength="339.38">2025-12-17</text>
</g>
</svg>
</body></html>
